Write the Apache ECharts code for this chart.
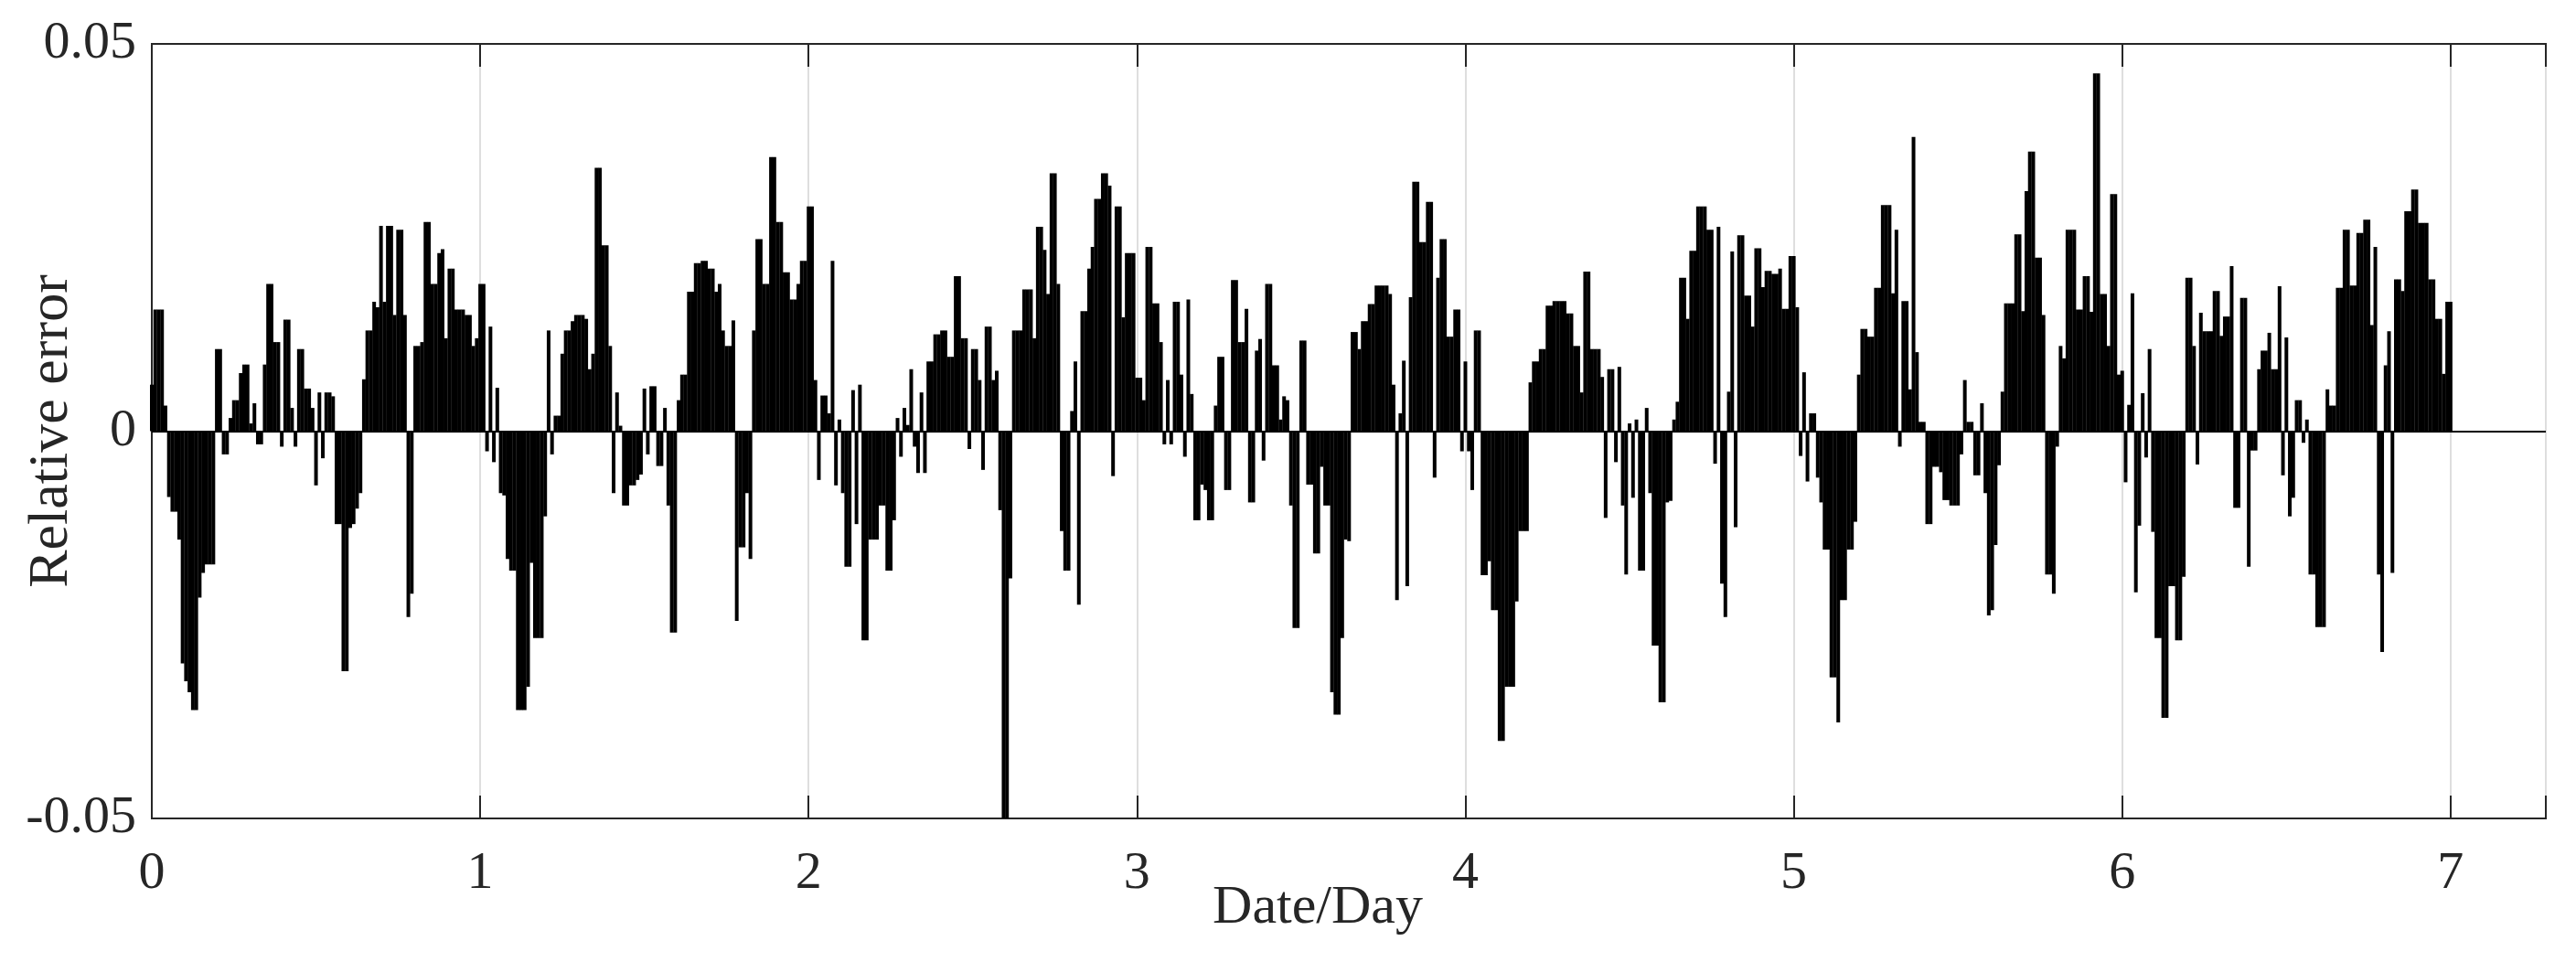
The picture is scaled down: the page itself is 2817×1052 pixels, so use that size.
<!DOCTYPE html>
<html>
<head>
<meta charset="utf-8">
<title>Relative error</title>
<script src="https://cdn.jsdelivr.net/npm/echarts@6/dist/echarts.min.js"></script>
<style>
  html, body { margin: 0; padding: 0; background: #fff; }
  #chart { width: 2817px; height: 1052px; }
</style>
</head>
<body>
<div id="chart"></div>
<script>
  // 15-minute steps, 96 per day
  var stepsPerDay = 96;
  var xTicks = [0, 1, 2, 3, 4, 5, 6, 7];
  var yTicks = [-0.05, 0, 0.05];

  var day1 = [
    0.006, 0.0157, 0.0157, 0.0157, 0.0033, -0.0085, -0.0104, -0.0104, -0.014, -0.030, -0.0323, -0.0337,
    -0.036, -0.036, -0.0215, -0.0183, -0.0172, -0.0172, -0.0172, 0.0106, 0.0106, -0.003, -0.003, 0.0017,
    0.004, 0.004, 0.0075, 0.0086, 0.0086, 0.001, 0.0036, -0.0017, -0.0017, 0.0086, 0.019, 0.019,
    0.0115, 0.0115, -0.002, 0.0144, 0.0144, 0.003, -0.002, 0.0106, 0.0106, 0.0055, 0.0055, 0.003,
    -0.007, 0.005, -0.0035, 0.005, 0.005, 0.0045, -0.012, -0.012, -0.031, -0.031, -0.0125, -0.012,
    -0.010, -0.008, 0.0067, 0.013, 0.013, 0.0167, 0.016, 0.0265, 0.0167, 0.0265, 0.0265, 0.015,
    0.026, 0.026, 0.015, -0.024, -0.021, 0.011, 0.011, 0.0115, 0.027, 0.027, 0.019, 0.019,
    0.023, 0.0235, 0.012, 0.021, 0.021, 0.0157, 0.0157, 0.0157, 0.015, 0.015, 0.011, 0.012
  ];
  var day2 = [
    0.019, 0.019, -0.0026, 0.0135, -0.004, 0.0056, -0.008, -0.0083, -0.0165, -0.018, -0.018, -0.036,
    -0.036, -0.036, -0.033, -0.017, -0.0267, -0.0267, -0.0267, -0.011, 0.013, -0.003, 0.002, 0.002,
    0.01, 0.013, 0.013, 0.0142, 0.015, 0.015, 0.015, 0.0145, 0.008, 0.01, 0.034, 0.034,
    0.024, 0.024, 0.011, -0.008, 0.005, 0.0007, -0.0096, -0.0096, -0.007, -0.007, -0.0063, -0.0056,
    0.0055, -0.003, 0.0058, 0.0058, -0.0045, -0.0045, 0.003, -0.0096, -0.026, -0.026, 0.004, 0.0073,
    0.0073, 0.018, 0.018, 0.0217, 0.0217, 0.022, 0.022, 0.021, 0.021, 0.018, 0.019, 0.013,
    0.011, 0.011, 0.0143, -0.0245, -0.015, -0.015, -0.008, -0.0165, 0.013, 0.0248, 0.0248, 0.019,
    0.019, 0.0354, 0.0354, 0.027, 0.027, 0.0205, 0.0205, 0.017, 0.017, 0.019, 0.022, 0.022
  ];
  var day3 = [
    0.029, 0.029, 0.0066, -0.0063, 0.0046, 0.0046, 0.0023, 0.022, -0.007, 0.0015, -0.008, -0.0175,
    -0.0175, 0.0053, -0.012, 0.006, -0.027, -0.027, -0.014, -0.014, -0.014, -0.0096, -0.0096, -0.018,
    -0.018, -0.0115, 0.0017, -0.0033, 0.003, 0.0008, 0.008, -0.002, -0.0054, 0.005, -0.0054, 0.009,
    0.009, 0.0125, 0.0125, 0.013, 0.013, 0.0096, 0.0096, 0.02, 0.02, 0.012, 0.012, -0.0023,
    0.0106, 0.0106, 0.0066, -0.005, 0.0135, 0.0135, 0.0066, 0.0078, -0.0102, -0.05, -0.05, -0.019,
    0.013, 0.013, 0.013, 0.0183, 0.0183, 0.0183, 0.012, 0.0264, 0.0264, 0.0234, 0.0177, 0.0333,
    0.0333, 0.019, -0.0129, -0.018, -0.018, 0.0026, 0.009, -0.0224, 0.0155, 0.0155, 0.021, 0.0238,
    0.030, 0.030, 0.0333, 0.0333, 0.0317, -0.0058, 0.029, 0.029, 0.0147, 0.023, 0.023, 0.023
  ];
  var day4 = [
    0.0069, 0.0069, 0.004, 0.0238, 0.0238, 0.0165, 0.0165, 0.0115, -0.0017, 0.0066, -0.0017, 0.0167,
    0.0167, 0.0073, -0.0033, 0.017, 0.0048, -0.0115, -0.0115, -0.0069, -0.0076, -0.0115, -0.0115, 0.0033,
    0.0096, 0.0096, -0.0076, -0.0076, 0.0195, 0.0195, 0.0115, 0.0115, 0.0158, -0.0092, -0.0092, 0.0104,
    0.0119, -0.0038, 0.019, 0.019, 0.0085, 0.0085, 0.0015, 0.0045, 0.004, -0.0096, -0.0254, -0.0254,
    0.0117, 0.0117, -0.0069, -0.0069, -0.0158, -0.0158, -0.0046, -0.0096, -0.0096, -0.0337, -0.0366, -0.0366,
    -0.0267, -0.014, -0.0142, 0.0128, 0.0128, 0.0106, 0.0142, 0.0142, 0.0164, 0.0164, 0.0188, 0.0188,
    0.0188, 0.0188, 0.0177, 0.006, -0.0218, 0.0023, 0.0091, -0.020, 0.0173, 0.0322, 0.0322, 0.0244,
    0.0244, 0.0296, 0.0296, -0.006, 0.0198, 0.0248, 0.0248, 0.0122, 0.0122, 0.0157, 0.0157, -0.0026
  ];
  var day5 = [
    0.009, -0.0026, -0.0076, 0.013, 0.013, -0.0186, -0.0186, -0.0168, -0.0231, -0.0231, -0.040, -0.040,
    -0.033, -0.033, -0.033, -0.022, -0.0129, -0.0129, -0.0129, 0.0063, 0.009, 0.009, 0.0106, 0.0106,
    0.0162, 0.0162, 0.0168, 0.0168, 0.0168, 0.0168, 0.0152, 0.0152, 0.011, 0.011, 0.005, 0.0206,
    0.0206, 0.0106, 0.0106, 0.0106, 0.007, -0.0112, 0.008, 0.008, -0.004, 0.0083, -0.0096, -0.0185,
    0.001, -0.0086, 0.0015, -0.018, -0.018, 0.003, -0.008, -0.0277, -0.0277, -0.035, -0.035, -0.0092,
    -0.009, 0.0015, 0.0038, 0.0198, 0.0198, 0.0145, 0.0233, 0.0233, 0.029, 0.029, 0.029, 0.026,
    0.026, -0.0042, 0.0264, -0.0197, -0.024, 0.0051, 0.0232, -0.0124, 0.0253, 0.0253, 0.0175, 0.0175,
    0.0135, 0.0236, 0.0236, 0.0186, 0.0207, 0.0207, 0.0203, 0.0203, 0.021, 0.0158, 0.0158, 0.0226
  ];
  var day6 = [
    0.0226, 0.016, -0.0032, 0.0076, -0.0065, 0.0023, 0.0023, -0.006, -0.0092, -0.0153, -0.0153, -0.0318,
    -0.0318, -0.0376, -0.0218, -0.0218, -0.0153, -0.0153, -0.0117, 0.0073, 0.0132, 0.0132, 0.0122, 0.0122,
    0.0185, 0.0185, 0.0292, 0.0292, 0.0292, 0.0178, 0.026, -0.002, 0.0168, 0.0168, 0.0054, 0.038,
    0.0102, 0.0012, 0.0012, -0.012, -0.012, -0.0046, -0.0046, -0.0053, -0.0089, -0.0089, -0.0096, -0.0096,
    -0.0096, -0.003, 0.0066, 0.0012, 0.0012, -0.0057, -0.0057, 0.0036, -0.008, -0.0238, -0.0231, -0.0147,
    -0.0044, 0.0051, 0.0165, 0.0165, 0.0165, 0.0254, 0.0254, 0.0155, 0.031, 0.0361, 0.0361, 0.0224,
    0.0224, 0.015, -0.0185, -0.0185, -0.021, -0.002, 0.011, 0.0094, 0.026, 0.026, 0.026, 0.0157,
    0.0157, 0.02, 0.02, 0.0154, 0.0462, 0.0462, 0.0177, 0.0177, 0.011, 0.0306, 0.0306, 0.0073
  ];
  var day7 = [
    0.0078, -0.0066, 0.0034, 0.0178, -0.0208, -0.0122, 0.0049, -0.0034, 0.0106, -0.013, -0.0267, -0.0267,
    -0.037, -0.037, -0.02, -0.02, -0.027, -0.027, -0.0188, 0.0198, 0.0198, 0.011, -0.0043, 0.0153,
    0.0129, 0.0129, 0.0129, 0.0181, 0.0181, 0.0123, 0.0148, 0.0148, 0.0213, -0.0099, -0.0099, 0.0172,
    0.0172, -0.0175, -0.0025, -0.0025, 0.008, 0.0104, 0.0104, 0.0127, 0.008, 0.008, 0.0187, -0.0057,
    0.0121, -0.011, -0.0086, 0.004, 0.004, -0.0015, 0.0015, -0.0185, -0.0185, -0.0253, -0.0253, -0.0253,
    0.0054, 0.0033, 0.0033, 0.0185, 0.0185, 0.026, 0.026, 0.0188, 0.0188, 0.0256, 0.0256, 0.0273,
    0.0273, 0.0137, 0.0238, -0.0185, -0.0285, 0.0085, 0.0129, -0.0183, 0.0196, 0.0196, 0.0181, 0.0284,
    0.0284, 0.0312, 0.0312, 0.0269, 0.0269, 0.0269, 0.0196, 0.0196, 0.0145, 0.0145, 0.0074, 0.0167
  ];
  // the sample at exactly day 7
  var lastStep = [0.0167];

  var values = [].concat(day1, day2, day3, day4, day5, day6, day7, lastStep);
  var barData = values.map(function (v, i) { return [i / stepsPerDay, v]; });

  var ink = '#262626';
  var serif = "'Liberation Serif', 'Times New Roman', serif";

  var myChart = echarts.init(document.getElementById('chart'));
  var option = {
    animation: false,
    backgroundColor: '#fff',
    grid: {
      left: 166,
      right: 33,
      top: 48,
      bottom: 157,
      containLabel: false,
      outerBoundsMode: 'none',
      show: true,
      borderColor: ink,
      borderWidth: 2
    },
    xAxis: [
      {
        type: 'value',
        position: 'bottom',
        min: xTicks[0],
        max: 7.29,
        interval: 1,
        name: 'Date/Day',
        nameLocation: 'middle',
        nameGap: 68,
        nameMoveOverlap: false,
        nameTextStyle: {fontFamily: serif, fontSize: 60, color: ink, padding: [0, 68, 0, 0]},
        axisLine: {show: true, onZero: false, lineStyle: {color: ink, width: 2}},
        axisTick: {show: true, inside: true, length: 25, lineStyle: {color: ink, width: 2}},
        axisLabel: {
          margin: 32,
          fontFamily: serif,
          fontSize: 58,
          color: ink,
          formatter: function (v) {
            return xTicks.indexOf(v) >= 0 ? String(v) : '';
          }
        },
        splitLine: {show: true, lineStyle: {color: '#dedede', width: 2}}
      },
      {
        type: 'value',
        position: 'top',
        min: xTicks[0],
        max: 7.29,
        interval: 1,
        axisLine: {show: true, onZero: false, lineStyle: {color: ink, width: 2}},
        axisTick: {show: true, inside: true, length: 25, lineStyle: {color: ink, width: 2}},
        axisLabel: {show: false},
        splitLine: {show: false}
      }
    ],
    yAxis: {
      type: 'value',
      min: yTicks[0],
      max: yTicks[2],
      interval: 0.05,
      name: 'Relative error',
      nameLocation: 'middle',
      nameRotate: 90,
      nameGap: 78,
      nameMoveOverlap: false,
      nameTextStyle: {fontFamily: serif, fontSize: 62, color: ink},
      axisLine: {show: true, onZero: false, lineStyle: {color: ink, width: 2}},
      axisTick: {show: true, inside: true, length: 25, lineStyle: {color: ink, width: 2}},
      axisLabel: {margin: 17, fontFamily: serif, fontSize: 58, color: ink},
      splitLine: {show: false}
    },
    series: [
      {
        name: 'Relative error',
        type: 'bar',
        xAxisIndex: 0,
        data: barData,
        barWidth: 4,
        itemStyle: {color: '#000'},
        markLine: {
          silent: true,
          symbol: 'none',
          label: {show: false},
          lineStyle: {color: '#000', width: 2, type: 'solid'},
          data: [{yAxis: 0}]
        }
      }
    ]
  };
  myChart.setOption(option);
</script>
</body>
</html>
